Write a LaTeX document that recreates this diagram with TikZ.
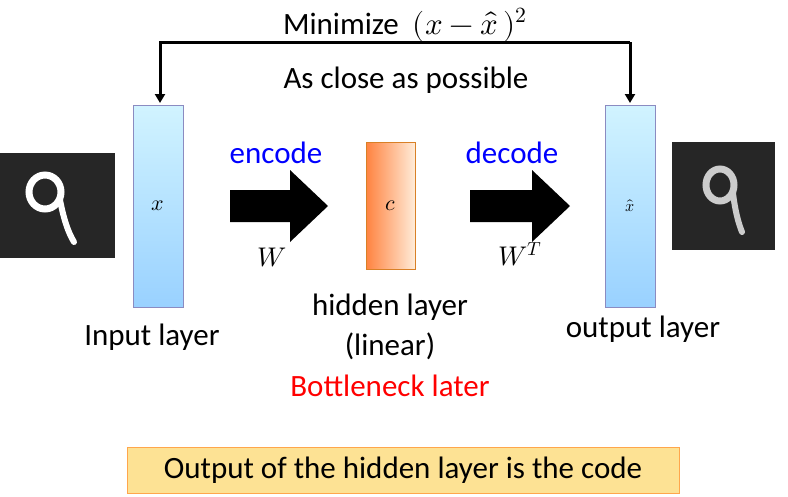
\documentclass[tikz,border=0pt]{standalone}
\usepackage{fontspec}
\usepackage{unicode-math}
\setmainfont{Carlito}
\setmathfont{Latin Modern Math}
\usetikzlibrary{arrows.meta}
\begin{document}
\begin{tikzpicture}[x=1pt,y=-1pt,
  lbl/.style={font=\fontsize{31}{34}\selectfont},
  sm/.style={font=\fontsize{27}{30}\selectfont},
  bar/.style={draw=blue!30!gray!70,minimum width=50pt,minimum height=202pt,inner sep=0,
    top color=blue!25!cyan!18!white,bottom color=blue!45!cyan!40!white,font=\fontsize{22}{24}\selectfont},
  bigarrow/.style={fill=black},
  img/.style={fill=black!85}]
\useasboundingbox (0,0) rectangle (788,496);
\node[lbl] (title) at (405,25) {Minimize \ $(x-\hat{x}\,)^2$};
\node[lbl] (close) at (406,80) {As close as possible};
\node[bar] (in) at (158,206) {$x$};
\node[draw=orange!70!gray,minimum width=49pt,minimum height=127pt,inner sep=0,
  left color=orange!70!red!75,right color=orange!15!white,font=\fontsize{22}{24}\selectfont] (c) at (390.5,205.5) {$c$};
\node[bar,font=\fontsize{16}{18}\selectfont] (out) at (630,206) {$\hat{x}$};
\coordinate (ti) at (160,42);
\coordinate (to) at (630,42);
\draw[line width=3pt,-{Triangle[length=9pt,width=10pt]}] (to) -- (ti) -- (160,103);
\draw[line width=3pt,-{Triangle[length=9pt,width=10pt]}] (to) -- (630,103);
\fill[bigarrow] (230,190) -- (290,190) -- (290,170) -- (328,206) -- (290,242) -- (290,222) -- (230,222) -- cycle;
\fill[bigarrow] (470,190) -- (532,190) -- (532,170) -- (570,206) -- (532,242) -- (532,222) -- (470,222) -- cycle;
\node[lbl,text=blue] (enc) at (276,153) {encode};
\node[lbl,text=blue] (dec) at (512,153) {decode};
\node[sm] (w) at (272,258) {$W$};
\node[sm] (wt) at (520,254) {$W^T$};
\fill[img] (0,153) rectangle (115,258);
\draw[white,line width=7pt] (45,192) ellipse (16 and 17);
\draw[white,line width=6pt,line cap=round] (60,200) .. controls (64,220) and (68,232) .. (74,242);
\fill[black!85] (672,142) rectangle (775,250);
\draw[white!80!black,line width=7pt] (720,185) ellipse (14 and 16);
\draw[white!80!black,line width=6pt,line cap=round] (733,193) .. controls (735,210) and (738,222) .. (742,232);
\node[lbl] (il) at (152,337) {Input layer};
\node[lbl] (hl) at (390,307) {hidden layer};
\node[lbl] (lin) at (390,346) {(linear)};
\node[lbl,text=red] (bn) at (390,386) {Bottleneck later};
\node[lbl] (ol) at (643,329) {output layer};
\node[lbl,draw=orange!70,fill=yellow!50!orange!40,minimum width=552pt,minimum height=46pt] (code) at (403,470) {Output of the hidden layer is the code};
\end{tikzpicture}
\end{document}
